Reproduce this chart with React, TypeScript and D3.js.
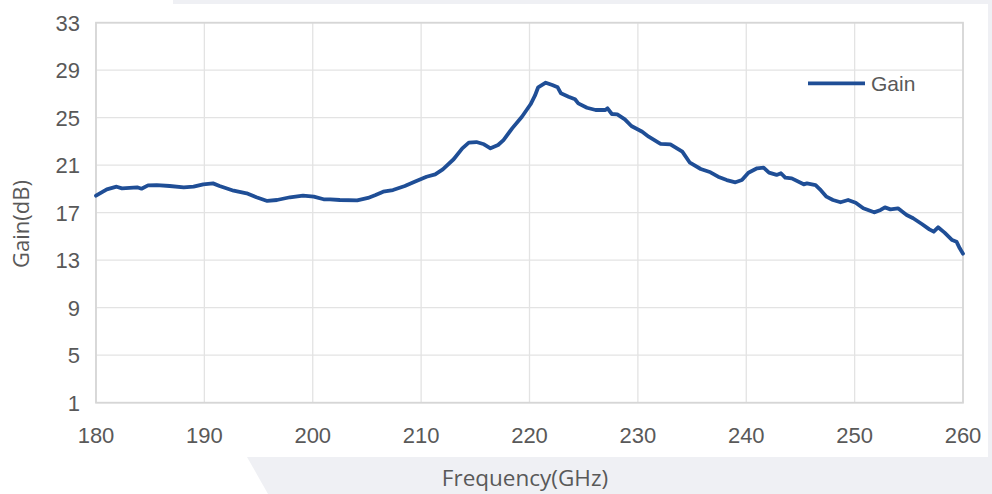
import { useEffect, useRef } from 'react';
import * as d3 from 'd3';

// frequency (GHz) and gain (dB)
const freq = [
  180.0, 181.0, 181.9, 182.4, 183.8, 184.2, 184.8, 185.6, 186.8, 188.1, 189.0, 189.9,
  190.8, 191.4, 192.7, 193.9, 194.8, 195.8, 196.7, 197.9, 199.1, 200.1, 201.0, 201.6,
  202.5, 204.1, 205.1, 205.8, 206.5, 207.4, 208.5, 209.4, 210.5, 211.3, 212.0, 213.0,
  213.8, 214.4, 215.1, 215.8, 216.4, 217.1, 217.6, 218.4, 219.3, 220.1, 220.5, 220.8,
  221.5, 222.1, 222.6, 222.9, 223.6, 224.2, 224.5, 225.3, 226.1, 227.0, 227.2, 227.6,
  228.1, 228.8, 229.4, 230.4, 231.0, 231.9, 232.1, 233.0, 234.1, 234.8, 235.8, 236.7,
  237.4, 238.2, 239.0, 239.6, 240.2, 241.0, 241.6, 242.1, 242.8, 243.2, 243.6, 244.2,
  245.3, 245.6, 246.4, 246.8, 247.4, 248.0, 248.7, 249.4, 250.1, 250.8, 251.8, 252.4,
  252.8, 253.3, 254.0, 254.8, 255.4, 256.2, 256.9, 257.3, 257.7, 258.3, 259.0, 259.4,
  259.7, 260.0,
];
const gain = [
  18.43, 18.97, 19.19, 19.05, 19.14, 19.02, 19.30, 19.33, 19.25, 19.14, 19.19, 19.39,
  19.47, 19.25, 18.85, 18.63, 18.30, 17.99, 18.07, 18.30, 18.43, 18.35, 18.13, 18.13,
  18.07, 18.04, 18.24, 18.49, 18.77, 18.91, 19.25, 19.61, 20.03, 20.23, 20.65, 21.50,
  22.42, 22.90, 22.95, 22.76, 22.42, 22.70, 23.12, 24.10, 25.08, 26.13, 26.85, 27.56,
  27.95, 27.75, 27.56, 27.05, 26.77, 26.55, 26.21, 25.84, 25.65, 25.65, 25.79, 25.31,
  25.28, 24.86, 24.30, 23.82, 23.40, 22.90, 22.79, 22.76, 22.14, 21.21, 20.68, 20.40,
  20.03, 19.75, 19.56, 19.75, 20.37, 20.74, 20.79, 20.37, 20.18, 20.32, 19.95, 19.89,
  19.39, 19.47, 19.33, 18.97, 18.35, 18.07, 17.88, 18.07, 17.84, 17.37, 17.03, 17.23,
  17.45, 17.28, 17.37, 16.81, 16.53, 16.05, 15.60, 15.40, 15.77, 15.32, 14.70, 14.56,
  14.00, 13.55,
];
const xTicks = [180, 190, 200, 210, 220, 230, 240, 250, 260];
const yTicks = [1, 5, 9, 13, 17, 21, 25, 29, 33];
const seriesName = 'Gain';

export default function App() {
  const svgRef = useRef<SVGSVGElement>(null);

  useEffect(() => {
    if (!svgRef.current) return;
    const width = 992;
    const height = 494;
    const margin = { top: 22.7, right: 29, bottom: 91.3, left: 96 };
    const innerWidth = width - margin.left - margin.right;
    const innerHeight = height - margin.top - margin.bottom;

    const svg = d3.select(svgRef.current);
    svg.selectAll('*').remove();

    // Background: white card with light grey bands around it
    svg.append('rect').attr('width', width).attr('height', height).attr('fill', '#ffffff');
    svg.append('rect').attr('x', 173).attr('y', 0).attr('width', width - 173).attr('height', 4).attr('fill', '#eff0f4');
    svg.append('rect').attr('x', 988).attr('y', 0).attr('width', 4).attr('height', height).attr('fill', '#eff0f4');
    svg.append('polygon')
      .attr('points', `247,457 ${width},457 ${width},${height} 268,${height}`)
      .attr('fill', '#eff0f4');

    const xScale = d3.scaleLinear().domain([180, 260]).range([0, innerWidth]);
    const yScale = d3.scaleLinear().domain([1, 33]).range([innerHeight, 0]);

    const g = svg.append('g').attr('transform', `translate(${margin.left}, ${margin.top})`);

    // Grid
    g.append('g')
      .selectAll('line')
      .data(yTicks)
      .join('line')
      .attr('x1', 0)
      .attr('x2', innerWidth)
      .attr('y1', d => yScale(d))
      .attr('y2', d => yScale(d))
      .attr('stroke', '#e3e3e3')
      .attr('stroke-width', 1.3);

    g.append('g')
      .selectAll('line')
      .data(xTicks)
      .join('line')
      .attr('x1', d => xScale(d))
      .attr('x2', d => xScale(d))
      .attr('y1', 0)
      .attr('y2', innerHeight)
      .attr('stroke', '#e3e3e3')
      .attr('stroke-width', 1.3);

    // Plot frame
    g.append('rect')
      .attr('width', innerWidth)
      .attr('height', innerHeight)
      .attr('fill', 'none')
      .attr('stroke', '#d6d6d6')
      .attr('stroke-width', 1.8);

    // Tick labels
    g.append('g')
      .selectAll('text')
      .data(yTicks)
      .join('text')
      .attr('x', -16)
      .attr('y', d => yScale(d))
      .attr('dy', '0.36em')
      .attr('text-anchor', 'end')
      .attr('fill', '#595959')
      .style('font-family', '"Liberation Sans", Arial, sans-serif')
      .style('font-size', '22px')
      .text(d => d);

    g.append('g')
      .selectAll('text')
      .data(xTicks)
      .join('text')
      .attr('x', d => xScale(d))
      .attr('y', innerHeight + 40)
      .attr('text-anchor', 'middle')
      .attr('fill', '#595959')
      .style('font-family', '"Liberation Sans", Arial, sans-serif')
      .style('font-size', '22px')
      .text(d => d);

    // Axis titles
    svg.append('text')
      .attr('transform', `translate(29, 224) rotate(-90)`)
      .attr('text-anchor', 'middle')
      .attr('fill', '#595959')
      .style('font-family', '"Open Sans", sans-serif')
      .style('font-size', '22px')
      .text('Gain(dB)');

    svg.append('text')
      .attr('x', 525)
      .attr('y', 486)
      .attr('text-anchor', 'middle')
      .attr('fill', '#595959')
      .style('font-family', '"Open Sans", sans-serif')
      .style('font-size', '22.5px')
      .text('Frequency(GHz)');

    // Gain curve
    const data = freq.map((f, i) => ({ x: f, y: gain[i] }));
    const line = d3.line<{ x: number; y: number }>()
      .x(d => xScale(d.x))
      .y(d => yScale(d.y));

    g.append('path')
      .datum(data)
      .attr('fill', 'none')
      .attr('stroke', '#1f4e96')
      .attr('stroke-width', 3.8)
      .attr('stroke-linejoin', 'round')
      .attr('stroke-linecap', 'round')
      .attr('d', line);

    // Legend
    const legend = svg.append('g').attr('transform', 'translate(808, 83.3)');
    legend.append('line')
      .attr('x1', 0)
      .attr('x2', 57)
      .attr('stroke', '#1f4e96')
      .attr('stroke-width', 3.8);
    legend.append('text')
      .attr('x', 63)
      .attr('dy', '0.36em')
      .attr('fill', '#595959')
      .style('font-family', '"Liberation Sans", Arial, sans-serif')
      .style('font-size', '21px')
      .text(seriesName);
  }, []);

  return (
    <svg
      ref={svgRef}
      width={992}
      height={494}
      style={{ position: 'absolute', left: 0, top: 0, display: 'block' }}
    />
  );
}
